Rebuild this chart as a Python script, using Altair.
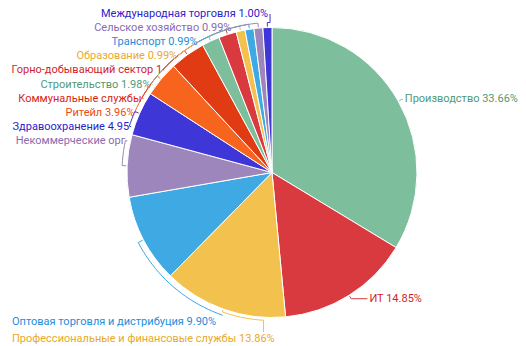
import math
import altair as alt
import pandas as pd

# ---- data ----
names = [
    "Производство", "ИТ", "Профессиональные и финансовые службы",
    "Оптовая торговля и дистрибуция", "Некоммерческие организации",
    "Здравоохранение", "Ритейл", "Коммунальные службы", "Строительство",
    "Горно-добывающий сектор", "Образование", "Транспорт",
    "Сельское хозяйство", "Международная торговля",
]
shares = [33.66, 14.85, 13.86, 9.90, 6.93, 4.95, 3.96, 3.96, 1.98, 1.98,
          0.99, 0.99, 0.99, 1.00]

palette = ["#7dbf9d", "#d83a40", "#f2c14e", "#3ea9e2",
           "#9c86bb", "#3f36d8", "#f6641e", "#e03b12"]
text_palette = ["#4f9a78", "#cf1f2c", "#e9a92a", "#238ddb",
                "#8a6bb0", "#2e20c9", "#f04a12", "#d81f10"]

slice_colors = [palette[i % len(palette)] for i in range(len(names))]
label_colors = [text_palette[i % len(text_palette)] for i in range(len(names))]

# ---- layout ----
W, H = 510, 338
CX, CY, R = 264, 164.5, 145
R_LAB = 150
FONT = "Roboto"
FS = 11

total = sum(shares)
mids = []
acc = 0.0
for s in shares:
    mids.append((acc + s / 2) / total * 360.0)
    acc += s


def pt(theta, r):
    t = math.radians(theta)
    return CX + r * math.sin(t), CY - r * math.cos(t)


def arc_pts(a0, a1, r):
    n = max(2, int(abs(a1 - a0) / 2) + 2)
    return [pt(a0 + (a1 - a0) * k / (n - 1), r) for k in range(n)]


left_rows, other_rows, line_rows = [], [], []
n_items = len(names)
for i in range(n_items):
    text = f"{names[i]} {shares[i]:.2f}%"
    m = mids[i]
    if i >= 4:  # stacked labels on the upper left
        k = n_items - 1 - i
        y = 6 + 14.1 * k
        dy = y - CY
        half = math.sqrt(max(0.0, R_LAB ** 2 - dy ** 2))
        xe = CX - max(4.0, half)
        ax, ay = xe + 2, y
        ta = math.degrees(math.atan2(ax - CX, CY - ay)) % 360
        pts = [pt(m, R + 1)] + arc_pts(m, ta, R + 5) + [(ax, ay)]
        left_rows.append(dict(text=text, x=xe, y=y, lim=xe, color=label_colors[i]))
    elif i < 2:  # right side
        p = pt(m, R + 4)
        ext = 1 + 18 * max(0.0, -math.cos(math.radians(m)))
        ax = p[0] + ext
        pts = [pt(m, R + 1), p, (ax, p[1])]
        other_rows.append(dict(text=text, x=ax + 2, y=p[1], lim=0, color=label_colors[i]))
    else:  # bottom labels
        k = 3 - i
        y = H - 24 + 17 * k
        x0 = 4
        xe = x0 + 5.85 * len(text)
        rc = R + 6 if i == 3 else R + 3
        tt = 180 - math.degrees(math.asin(max(-1, min(1, (xe - CX) / rc))))
        pts = [pt(m, R + 1)] + arc_pts(m, tt, rc)
        pts.append((pts[-1][0], y - 7))
        other_rows.append(dict(text=text, x=x0, y=y, lim=0, color=label_colors[i]))
    for j, (px, py) in enumerate(pts):
        line_rows.append(dict(id=i, seq=j, x=px, y=py, color=slice_colors[i]))

pie_df = pd.DataFrame({"name": names, "share": shares, "idx": list(range(n_items))})
lines_df = pd.DataFrame(line_rows)
left_df = pd.DataFrame(left_rows)
other_df = pd.DataFrame(other_rows)

pie = alt.Chart(pie_df).mark_arc(radius=R, stroke="white", strokeWidth=1).encode(
    theta=alt.Theta("share:Q", stack=True),
    order=alt.Order("idx:Q"),
    color=alt.Color("name:N", scale=alt.Scale(domain=names, range=slice_colors), legend=None),
    x=alt.value(CX),
    y=alt.value(CY),
)

xs = alt.X("x:Q", scale=None, axis=None)
ys = alt.Y("y:Q", scale=None, axis=None)

lines = alt.Chart(lines_df).mark_line(strokeWidth=1, interpolate="linear").encode(
    x=xs, y=ys,
    detail="id:N",
    order="seq:Q",
    color=alt.Color("color:N", scale=None),
)

text_left = alt.Chart(left_df).mark_text(
    align="right", baseline="middle", font=FONT, fontSize=FS,
    limit=alt.expr("datum.lim"), ellipsis=" ",
).encode(x=xs, y=ys, text="text:N", color=alt.Color("color:N", scale=None))

text_other = alt.Chart(other_df).mark_text(
    align="left", baseline="middle", font=FONT, fontSize=FS,
).encode(x=xs, y=ys, text="text:N", color=alt.Color("color:N", scale=None))

chart = alt.layer(pie, lines, text_left, text_other).properties(
    width=W, height=H, padding=0, autosize=alt.AutoSizeParams(type="none"),
    background="white",
).configure_view(stroke=None)

chart.save("out.html", embed_options={"renderer": "svg", "actions": False})
